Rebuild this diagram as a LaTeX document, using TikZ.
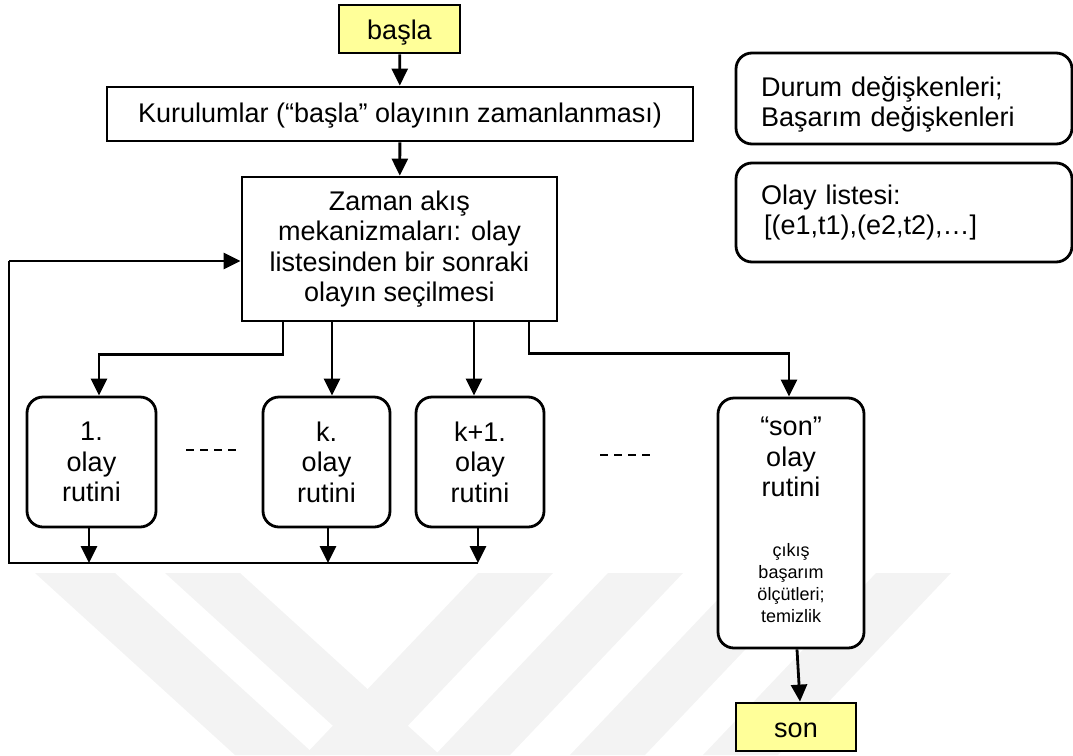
\documentclass[tikz,border=0pt]{standalone}
\usepackage{fontspec}
\setmainfont{Liberation Sans}
\usetikzlibrary{arrows.meta}
\definecolor{termfill}{HTML}{FFFF99}
\definecolor{wmark}{HTML}{F3F3F3}
\begin{document}
\begin{tikzpicture}[x=1pt,y=-1pt,
  every node/.style={font=\fontsize{27}{30.5}\selectfont, inner sep=0pt},
  box/.style={draw, line width=2.8pt, rectangle, fill=white, align=center},
  term/.style={box, fill=termfill, text height=20pt, text depth=0pt},
  rbox/.style={box, rounded corners=16pt},
  note/.style={font=\fontsize{18}{22}\selectfont, align=center},
  arr/.style={line width=2.8pt, -{Triangle[length=17pt,width=16pt]}},
  link/.style={line width=2.8pt},
  gapline/.style={line width=2.2pt, dash pattern=on 8pt off 6pt},
  wm/.style={fill=wmark, draw=none}]
\useasboundingbox (0,0) rectangle (1073,755);

% faint background stripes
\fill[wm] (35,573)--(115,573)--(315,755)--(235,755)--cycle;
\fill[wm] (165,573)--(240,573)--(440,755)--(365,755)--cycle;
\fill[wm] (478,573)--(553,573)--(380,755)--(305,755)--cycle;
\fill[wm] (608,573)--(683,573)--(510,755)--(435,755)--cycle;
\fill[wm] (743,573)--(818,573)--(645,755)--(570,755)--cycle;
\fill[wm] (876,573)--(951,573)--(778,755)--(703,755)--cycle;

% main flow
\node[term, minimum width=121pt, minimum height=48pt] (start) at (399.5,29) {başla};
\node[box, minimum width=586pt, minimum height=54pt, text height=20pt, text depth=4pt] (kur) at (400,114)
  {Kurulumlar (“başla” olayının zamanlanması)};
\node[box, minimum width=315pt, minimum height=144pt] (zaman) at (399.5,249)
  {Zaman akış\\mekanizmaları: olay\\listesinden bir sonraki\\olayın seçilmesi};

% event routines
\node[rbox, minimum width=129pt, minimum height=130pt] (r1) at (91.5,462) {1.\\olay\\rutini};
\node[rbox, minimum width=127pt, minimum height=130pt] (rk) at (326.5,462) {k.\\olay\\rutini};
\node[rbox, minimum width=128pt, minimum height=130pt] (rk1) at (480,462) {k+1.\\olay\\rutini};
\node[rbox, minimum width=146pt, minimum height=250pt] (rson) at (791,523) {};
\node[align=center] (sontxt) at (791,457) {“son”\\olay\\rutini};
\node[note] (sonnote) at (791,583) {çıkış\\başarım\\ölçütleri;\\temizlik};
\node[term, minimum width=120pt, minimum height=48pt] (stop) at (796,727) {son};

% state boxes
\node[rbox, align=left, text width=286pt, inner xsep=25pt, minimum height=91pt,
      text height=20pt, text depth=25pt] (durum) at (904,98.5)
  {Durum değişkenleri;\\Başarım değişkenleri};
\node[rbox, align=left, text width=286pt, inner xsep=25pt, minimum height=99pt] (liste) at (904,212.5)
  {Olay listesi:\\\hspace*{3pt}[(e1,t1),(e2,t2),…]};

% connectors
\draw[arr] (start) -- (kur);
\draw[arr] (kur) -- (zaman);
\draw[arr] ([xshift=-116.5pt]zaman.south) -- ++(0,32) -| ([xshift=7.5pt]r1.north);
\draw[arr] ([xshift=5.5pt]rk.north |- zaman.south) -- ([xshift=5.5pt]rk.north);
\draw[arr] ([xshift=-6pt]rk1.north |- zaman.south) -- ([xshift=-6pt]rk1.north);
\draw[arr] ([xshift=129.5pt]zaman.south) -- ++(0,31) -| ([xshift=-2pt]rson.north);
\draw[arr] ([xshift=6pt]rson.south) -- ([xshift=4pt]stop.north);

% feedback loop back to the time-advance box
\coordinate (loopR) at (478,563);
\coordinate (loopL) at (9,563);
\coordinate (loopT) at (9,261);
\draw[link] (loopR) -- (loopL) -- (loopT);
\draw[arr] (loopT) -- (loopT -| zaman.west);
\draw[arr] ([xshift=-2.5pt]r1.south) -- ([xshift=-2.5pt]r1.south |- loopL);
\draw[arr] ([xshift=1.5pt]rk.south) -- ([xshift=1.5pt]rk.south |- loopL);
\draw[arr] ([xshift=-2pt]rk1.south) -- ([xshift=-2pt]rk1.south |- loopL);

% ellipsis marks between routines
\coordinate (g1a) at (186,450);
\coordinate (g1b) at (236,450);
\coordinate (g2a) at (600,455);
\coordinate (g2b) at (650,455);
\draw[gapline] (g1a) -- (g1b);
\draw[gapline] (g2a) -- (g2b);
\end{tikzpicture}
\end{document}
